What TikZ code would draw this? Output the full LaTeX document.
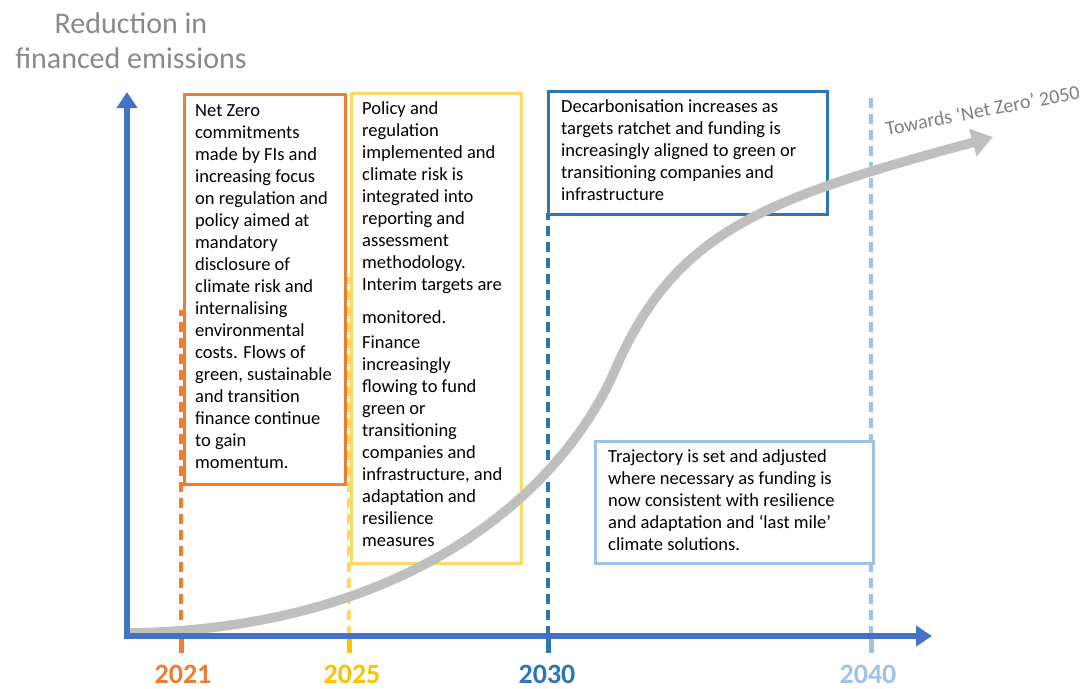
\documentclass[tikz,border=0pt]{standalone}
\usepackage{fontspec}
\setmainfont{Carlito}
\usetikzlibrary{arrows.meta}
\definecolor{cOrange}{HTML}{ED7D31}
\definecolor{cGold}{HTML}{FFC000}
\definecolor{cGoldLight}{HTML}{FFD966}
\definecolor{cBlue}{HTML}{2E75B6}
\definecolor{cBlueLight}{HTML}{9DC3E6}
\definecolor{cAxis}{HTML}{4472C4}
\definecolor{cCurve}{HTML}{BFBFBF}
\definecolor{cTitle}{HTML}{898989}
\definecolor{cGoal}{HTML}{7F7F7F}
\begin{document}
\begin{tikzpicture}[x=1pt,y=-1pt,
  stagebox/.style={draw=#1, line width=2.6pt, fill=white, inner sep=0pt, anchor=north west},
  boxtext/.style={anchor=north west, inner sep=0pt, align=left, text=black,
    font=\fontsize{18.5}{22}\selectfont},
  yearline/.style={draw=#1, line width=3.2pt, dash pattern=on 10pt off 6pt},
  yeartick/.style={draw=#1, line width=5pt},
  yearlabel/.style={text=#1, anchor=base, inner sep=0pt, font=\fontsize{28}{30}\selectfont\bfseries},
  axisline/.style={draw=cAxis, line width=5.5pt, line join=miter},
  trend/.style={draw=cCurve, line width=9.5pt}]
\useasboundingbox (0,0) rectangle (1084,688);

% axis end points
\coordinate (origin) at (127,636);
\coordinate (ytop) at (127,92);
\coordinate (xend) at (932,636);

% milestone markers on the time axis
\coordinate (t2021) at (181,636);
\coordinate (t2025) at (349,636);
\coordinate (t2030) at (548,636);
\coordinate (t2040) at (871,636);
\coordinate (d2021) at (181,310);
\coordinate (d2025) at (349,277);
\coordinate (d2030) at (548,213);
\coordinate (d2040) at (871,95);

\draw[yearline=cOrange] (t2021) -- (d2021);
\draw[yearline=cGoldLight] (t2025) -- (d2025);
\draw[yearline=cBlue] (t2030) -- (d2030);
\draw[yearline=cBlueLight] (t2040) -- (d2040);

\draw[yeartick=cOrange] (t2021) -- ++(0,17);
\draw[yeartick=cGold] (t2025) -- ++(0,17);
\draw[yeartick=cBlue] (t2030) -- ++(0,17);
\draw[yeartick=cBlueLight] (t2040) -- ++(0,17);

\node[yearlabel=cOrange] (y2021) at (183,683) {2021};
\node[yearlabel=cGold] (y2025) at (352,683) {2025};
\node[yearlabel=cBlue] (y2030) at (547,683) {2030};
\node[yearlabel=cBlueLight] (y2040) at (868,683) {2040};

% stage boxes
\node[stagebox=cOrange, minimum width=161pt, minimum height=390pt] (b2021) at (183,93) {};
\node[stagebox=cGoldLight, minimum width=170pt, minimum height=470pt] (b2025) at (350,92) {};
\node[stagebox=cBlue, minimum width=279pt, minimum height=123pt] (b2030) at (547,90) {};
\node[stagebox=cBlueLight, minimum width=278pt, minimum height=122pt] (b2040) at (594,440) {};

% emissions trajectory: two cubic pieces meeting at the inflection point
\coordinate (cstart) at (130,633);
\coordinate (cmid) at (615,370);
\coordinate (cend) at (993,137);
\draw[trend, -{Triangle[length=21pt,width=27pt]}]
  (cstart) .. controls (420,628) and (566,483) .. (cmid)
           .. controls (675,232) and (760,200) .. (cend);

% axes
\draw[axisline, {Triangle[length=16pt,width=20pt]}-{Triangle[length=16pt,width=20pt]}] (ytop) -- (origin) -- (xend);

% titles
\node[anchor=north, align=center, inner sep=0pt, text=cTitle,
  font=\fontsize{30}{35}\selectfont] (ytitle) at (131,11)
  {\rule{0pt}{22pt}Reduction in\\financed emissions};
\node[anchor=base west, inner sep=0pt, rotate=11, text=cGoal,
  font=\fontsize{20}{22}\selectfont] (goal) at (887,136)
  {Towards ‘Net Zero’ 2050};

% stage descriptions
\node[boxtext] (s2021) at (195,102) {\rule{0pt}{14pt}Net Zero\\commitments\\made by FIs and\\increasing focus\\on regulation and\\policy aimed at\\mandatory\\disclosure of\\climate risk and\\internalising\\environmental\\costs. Flows of\\green, sustainable\\and transition\\finance continue\\to gain\\momentum.};
\node[boxtext] (s2025) at (362,100) {\rule{0pt}{14pt}Policy and\\regulation\\implemented and\\climate risk is\\integrated into\\reporting and\\assessment\\methodology.\\Interim targets are\\[11pt]monitored.\\[3.5pt]Finance\\increasingly\\flowing to fund\\green or\\transitioning\\companies and\\infrastructure, and\\adaptation and\\resilience\\measures};
\node[boxtext] (s2030) at (561,98) {\rule{0pt}{14pt}Decarbonisation increases as\\targets ratchet and funding is\\increasingly aligned to green or\\transitioning companies and\\infrastructure};
\node[boxtext] (s2040) at (608,448) {\rule{0pt}{14pt}Trajectory is set and adjusted\\where necessary as funding is\\now consistent with resilience\\and adaptation and ‘last mile’\\climate solutions.};
\end{tikzpicture}
\end{document}
